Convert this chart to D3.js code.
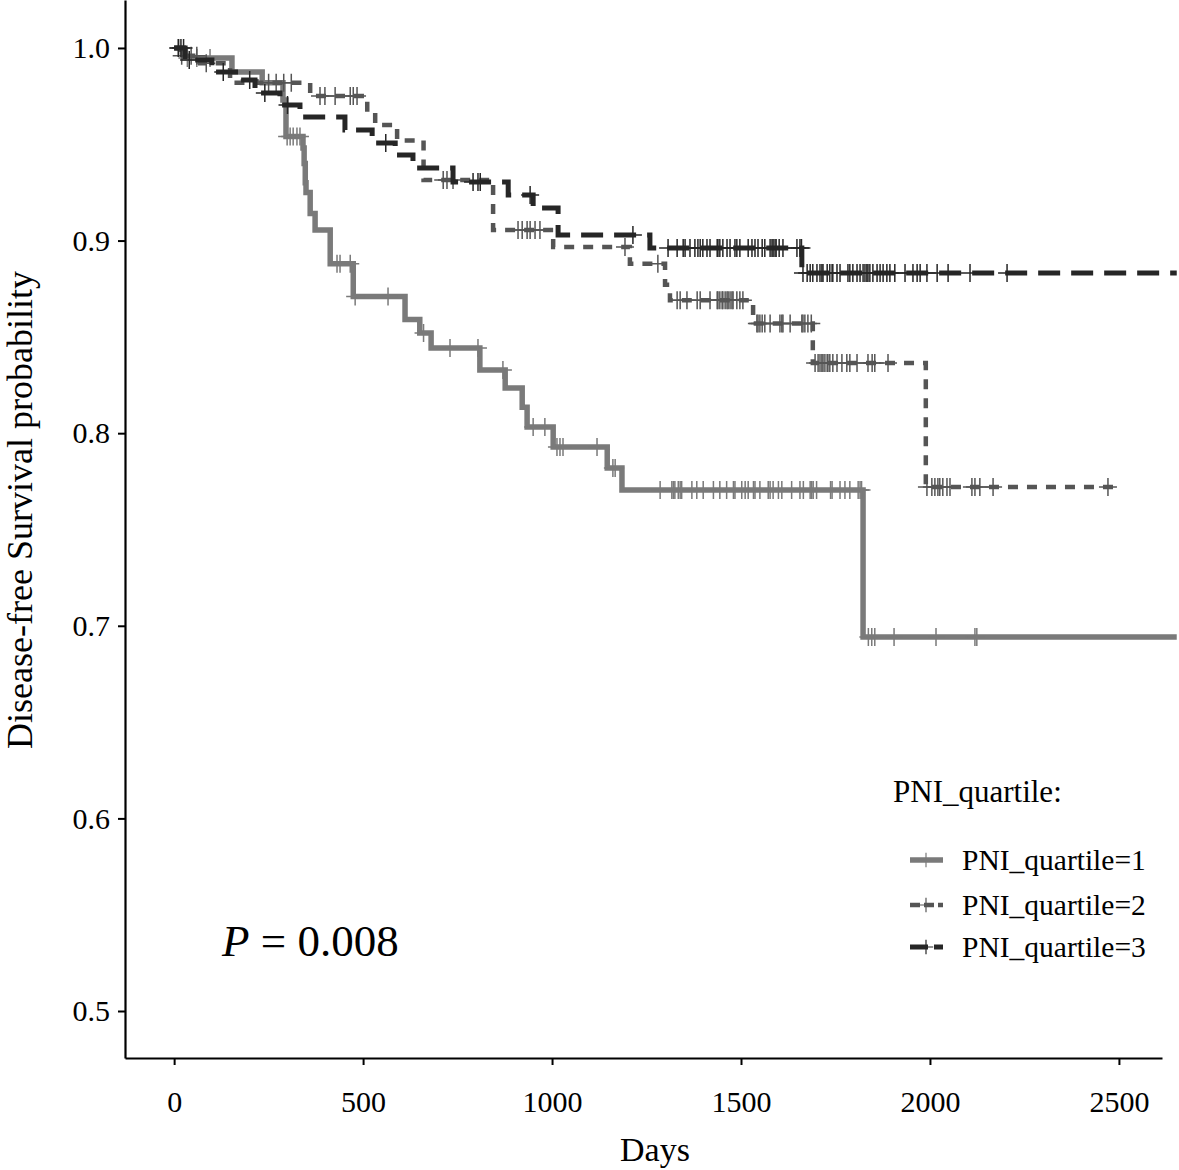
<!DOCTYPE html>
<html>
<head>
<meta charset="utf-8">
<script src="https://cdn.jsdelivr.net/npm/d3@7"></script>
<style>
  body { margin: 0; background: #fff; }
  text { font-family: 'Liberation Serif', 'Times New Roman', serif; }
</style>
</head>
<body>
<div id="chart"></div>
<script>
// step curves: time (days) where survival drops, and the new value
const group1Times = [0, 24, 153, 233, 288, 296, 341, 344, 347, 349, 360, 373, 413, 474, 611, 650, 680, 809, 876, 921, 934, 1003, 1146, 1185, 1823]
const group1Surv = [1.0, 0.9948, 0.9875, 0.982, 0.973, 0.954, 0.948, 0.94, 0.93, 0.925, 0.914, 0.9055, 0.888, 0.871, 0.859, 0.852, 0.8442, 0.8328, 0.8235, 0.8135, 0.8032, 0.7928, 0.7819, 0.7705, 0.6942]
const group1End = 2653
const group1Censor = [35, 60, 95, 299, 307, 315, 325, 333, 431, 439, 466, 479, 566, 660, 730, 804, 870, 950, 981, 1013, 1021, 1029, 1119, 1161, 1167,
  1286, 1317, 1321, 1325, 1334, 1339, 1343, 1370, 1383, 1400, 1427, 1444, 1462, 1480, 1484, 1502, 1511, 1519, 1533, 1537, 1550,
  1572, 1577, 1585, 1599, 1608, 1634, 1656, 1665, 1683, 1687, 1691, 1700, 1737, 1741, 1762, 1775, 1788, 1810, 1815, 1819,
  1837, 1846, 1854, 1905, 2016, 2119, 2124]

const group2Times = [0, 16, 69, 148, 360, 511, 532, 590, 660, 844, 1003, 1206, 1299, 1312, 1532, 1690, 1989]
const group2Surv = [1.0, 0.996, 0.992, 0.982, 0.975, 0.968, 0.96, 0.952, 0.9315, 0.9055, 0.8967, 0.888, 0.877, 0.869, 0.857, 0.8364, 0.772]
const group2End = 2495
const group2Censor = [12, 20, 45, 60, 85, 250, 270, 290, 310, 386, 399, 426, 466, 474, 484, 712, 722, 738, 910, 921, 934, 942, 955, 968,
  1193, 1280, 1331, 1339, 1357, 1384, 1392, 1418, 1437, 1439, 1444, 1450, 1452, 1458, 1463, 1466, 1471, 1476, 1479, 1489, 1497, 1505,
  1542, 1545, 1550, 1556, 1563, 1577, 1603, 1608, 1611, 1630, 1661, 1664, 1669, 1677, 1686,
  1696, 1704, 1709, 1714, 1717, 1722, 1728, 1730, 1735, 1743, 1754, 1767, 1780, 1788, 1807, 1836, 1847, 1854, 1889,
  1992, 2005, 2013, 2021, 2026, 2034, 2045, 2053, 2111, 2119, 2132, 2167, 2471]

const group3Times = [0, 29, 100, 175, 214, 280, 333, 452, 524, 585, 632, 738, 884, 950, 1016, 1259, 1661]
const group3Surv = [1.0, 0.9938, 0.9875, 0.9834, 0.9766, 0.9704, 0.9642, 0.9574, 0.9507, 0.9444, 0.9377, 0.9304, 0.9237, 0.9169, 0.9029, 0.8962, 0.8832]
const group3End = 2653
const group3Censor = [11, 18, 25, 40, 130, 200, 240, 300, 560, 791, 804, 810, 942, 1214,
  1307, 1331, 1347, 1352, 1365, 1378, 1386, 1392, 1399, 1410, 1418, 1437, 1439, 1444, 1452, 1463, 1471, 1484, 1489, 1497,
  1519, 1529, 1537, 1545, 1556, 1563, 1577, 1582, 1585, 1590, 1593, 1601, 1611, 1648, 1656,
  1660, 1664, 1675, 1683, 1690, 1701, 1709, 1714, 1717, 1728, 1735, 1741, 1743, 1754, 1762, 1783, 1788, 1796, 1807, 1815,
  1823, 1828, 1833, 1836, 1841, 1849, 1860, 1868, 1876, 1886, 1894, 1907, 1934, 1955, 1966, 1974, 1992, 2019, 2048, 2106, 2204]

const groupNames = ['PNI_quartile=1', 'PNI_quartile=2', 'PNI_quartile=3']
const xTicks = [0, 500, 1000, 1500, 2000, 2500]
const yTicks = [0.5, 0.6, 0.7, 0.8, 0.9, 1.0]

const drawSurvivalPlot = () => {
  const dims = { width: 1179, height: 1170, left: 125, right: 1162, top: 0, bottom: 1058 }

  const svg = d3.select('#chart')
    .append('svg')
    .attr('width', dims.width)
    .attr('height', dims.height)

  const xScale = d3.scaleLinear().domain([-130, 2614]).range([dims.left, dims.right])
  const yScale = d3.scaleLinear().domain([0.4756, 1.0249]).range([dims.bottom, dims.top])

  const groups = [
    { times: group1Times, surv: group1Surv, end: group1End, censor: group1Censor, color: '#7a7a7a', width: 5.5, dash: null },
    { times: group2Times, surv: group2Surv, end: group2End, censor: group2Censor, color: '#555555', width: 4.5, dash: '10,9' },
    { times: group3Times, surv: group3Surv, end: group3End, censor: group3Censor, color: '#262626', width: 5, dash: '22,11' }
  ]

  const lineGenerator = d3.line()
    .x(d => xScale(d[0]))
    .y(d => yScale(d[1]))
    .curve(d3.curveStepAfter)

  const crossPath = 'M-9,0H9M0,-9V9'

  groups.forEach(g => {
    const pts = g.times.map((t, i) => [t, g.surv[i]])
    pts.push([g.end, g.surv[g.surv.length - 1]])

    svg.append('path')
      .datum(pts)
      .attr('d', lineGenerator)
      .attr('fill', 'none')
      .attr('stroke', g.color)
      .attr('stroke-width', g.width)
      .attr('stroke-dasharray', g.dash)

    // censor marks sit on the step value at that time
    const bisect = d3.bisector(t => t).right
    svg.append('g')
      .selectAll('path')
      .data(g.censor)
      .join('path')
      .attr('d', crossPath)
      .attr('transform', t => `translate(${xScale(t)},${yScale(g.surv[bisect(g.times, t) - 1])})`)
      .attr('stroke', g.color)
      .attr('stroke-width', 1.5)
      .attr('fill', 'none')
  })

  // axes
  const xAxis = d3.axisBottom(xScale).tickValues(xTicks).tickSize(7).tickSizeOuter(0).tickPadding(26)
    .tickFormat(d3.format('d'))
  const yAxis = d3.axisLeft(yScale).tickValues(yTicks).tickSize(7).tickSizeOuter(0).tickPadding(8)
    .tickFormat(d3.format('.1f'))

  const xAxisGroup = svg.append('g')
    .attr('transform', `translate(0,${dims.bottom})`)
    .call(xAxis)
  const yAxisGroup = svg.append('g')
    .attr('transform', `translate(${dims.left},0)`)
    .call(yAxis)

  ;[xAxisGroup, yAxisGroup].forEach(ax => {
    ax.select('.domain').attr('stroke', '#000').attr('stroke-width', 2.2)
    ax.selectAll('.tick line').attr('stroke', '#000').attr('stroke-width', 2)
    ax.selectAll('.tick text')
      .attr('fill', '#000')
      .attr('font-family', "'Liberation Serif', serif")
      .attr('font-size', 30)
  })

  svg.append('text')
    .attr('x', 655)
    .attr('y', 1161)
    .attr('text-anchor', 'middle')
    .attr('font-size', 34)
    .text('Days')

  svg.append('text')
    .attr('transform', 'translate(32,510) rotate(-90)')
    .attr('text-anchor', 'middle')
    .attr('font-size', 36)
    .text('Disease-free Survival probability')

  // p value
  const pText = svg.append('text')
    .attr('x', 222)
    .attr('y', 956)
    .attr('font-size', 45)
  pText.append('tspan').attr('font-style', 'italic').text('P')
  pText.append('tspan').text(' = 0.008')

  // legend
  svg.append('text')
    .attr('x', 893)
    .attr('y', 802)
    .attr('font-size', 31)
    .text('PNI_quartile:')

  const legendY = [860, 905, 947]
  groups.forEach((g, i) => {
    const item = svg.append('g').attr('transform', `translate(0,${legendY[i]})`)
    item.append('line')
      .attr('x1', 910).attr('x2', 943)
      .attr('stroke', g.color)
      .attr('stroke-width', g.width)
      .attr('stroke-dasharray', g.dash ? (i === 1 ? '10,4' : '18,6') : null)
    item.append('path')
      .attr('d', crossPath)
      .attr('transform', 'translate(926,0) scale(0.8)')
      .attr('stroke', g.color)
      .attr('stroke-width', 1.5)
    item.append('text')
      .attr('x', 962)
      .attr('y', 10)
      .attr('font-size', 29.5)
      .text(groupNames[i])
  })
}

drawSurvivalPlot()
</script>
</body>
</html>
